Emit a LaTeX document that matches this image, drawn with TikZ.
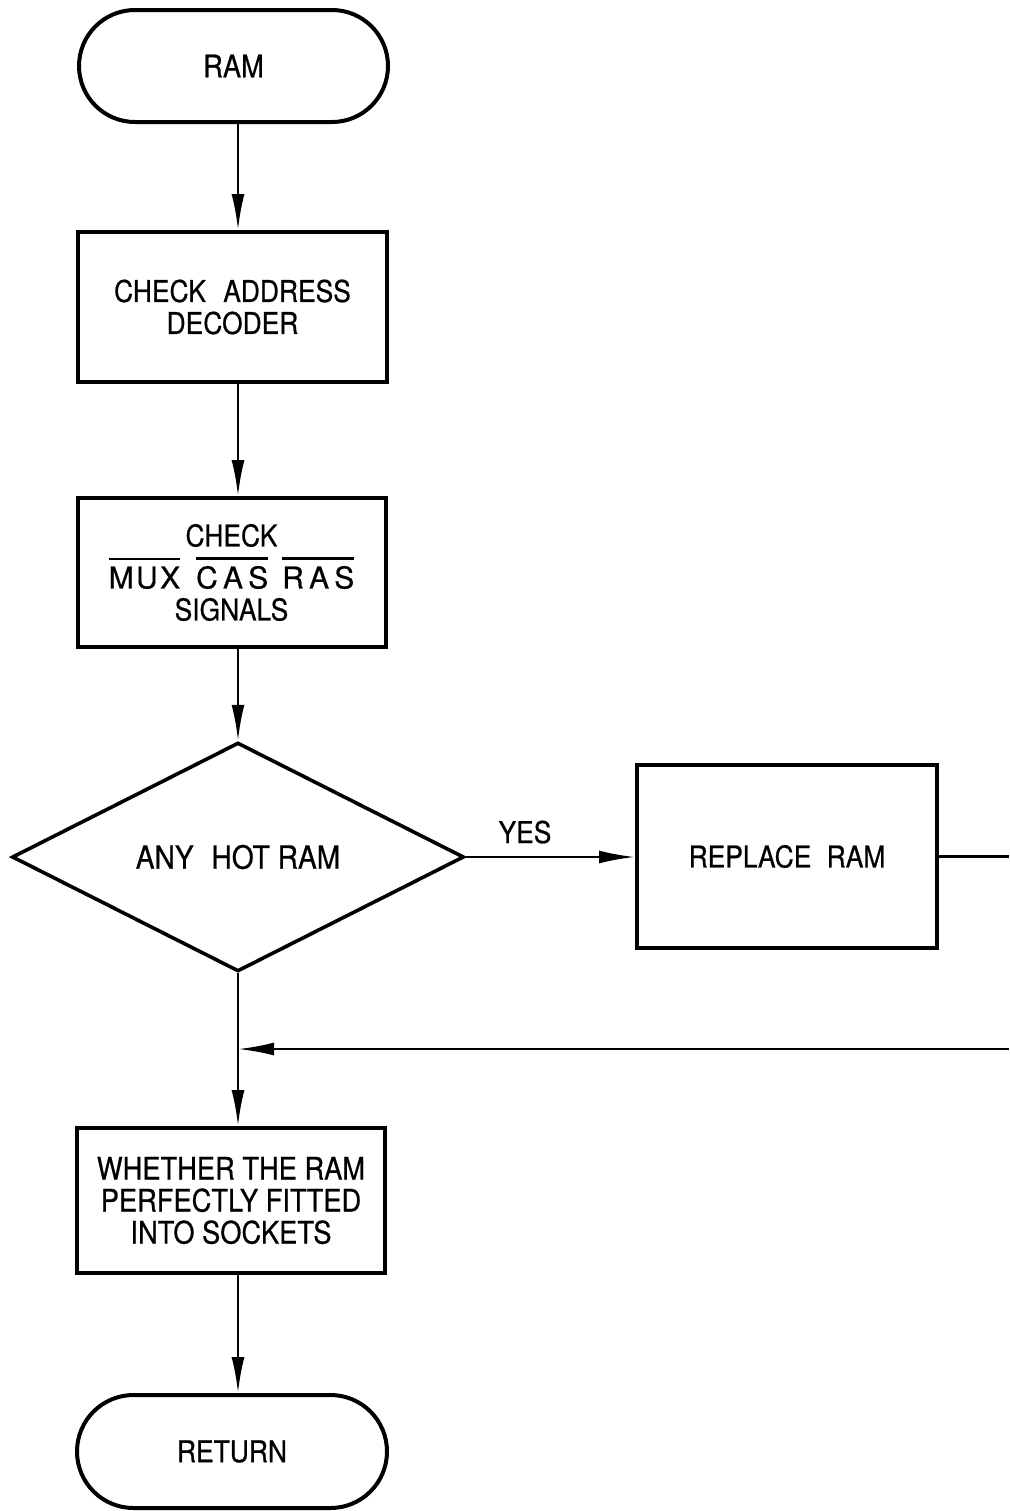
\documentclass[tikz,border=0pt]{standalone}
\usepackage{fontspec}
\setmainfont[FakeStretch=0.88,FakeBold=0.6]{TeX Gyre Heros}
\newfontfamily\widefont[FakeBold=0.6]{TeX Gyre Heros}
\usetikzlibrary{shapes.geometric,shapes.misc,arrows.meta}
\newcommand\ovl[1]{\vbox{\hrule height 1.2pt\kern 3.2pt\hbox{#1}}}
\begin{document}
\begin{tikzpicture}[x=0.5pt,y=-0.5pt,
  txt/.style={font=\fontsize{15}{16}\selectfont},
  box/.style={draw,line width=2pt,inner sep=0pt,align=center,txt},
  term/.style={rounded rectangle,draw,line width=2pt,inner sep=0pt,txt},
  dec/.style={diamond,draw,line width=1.8pt,inner sep=0pt,txt},
  conn/.style={line width=1.3pt},
  arr/.style={conn,-{Latex[length=18pt,width=6.5pt]}}]
\useasboundingbox (0,0) rectangle (1009,1511);
\coordinate (spine) at (238,0);
\node[term,minimum width=154.5pt,minimum height=56pt,font=\fontsize{15.5}{16}\selectfont] (ram) at (233.5,66) {RAM};
\node[box,minimum width=154.5pt,minimum height=75pt] (b1) at (232.5,307) {CHECK\hspace{5pt} ADDRESS\\DECODER};
\node[box,minimum width=154pt,minimum height=74.5pt] (b2) at (231.5,572.5) {CHECK\\[5pt]{\widefont\fontsize{15}{16}\selectfont\ovl{M\kern1.2pt U\kern1.2pt X}\hspace{8pt}\ovl{C\kern2.6pt A\kern2.6pt S}\hspace{7pt}\ovl{R\kern2.6pt A\kern2.6pt S}}\\SIGNALS};
\node[dec,minimum width=226pt,minimum height=114pt,font=\fontsize{16}{16}\selectfont] (d) at (238,857) {ANY\hspace{5pt} HOT RAM};
\node[box,minimum width=150pt,minimum height=91.5pt] (rep) at (787,856.5) {REPLACE\hspace{4pt} RAM};
\node[box,minimum width=154pt,minimum height=72.5pt,font=\fontsize{15.5}{16}\selectfont] (b3) at (231,1200.5) {WHETHER THE RAM\\PERFECTLY FITTED\\INTO SOCKETS};
\node[term,minimum width=155pt,minimum height=56.5pt] (ret) at (232,1451.5) {RETURN};
\node[txt,anchor=base] (yes) at (525,843) {YES};
\coordinate (e1) at (1009,856.5);
\coordinate (e2) at (1009,1049);
\coordinate (j) at (238,1049);
\draw[arr] (ram.south -| spine) -- (b1.north -| spine);
\draw[arr] (b1.south -| spine) -- (b2.north -| spine);
\draw[arr] (b2.south -| spine) -- (d.north);
\draw[arr] (d.east) -- (d.east -| rep.west);
\draw[conn] (rep.east) -- (rep.east -| e1);
\draw[arr] (d.south) -- (b3.north -| d.south);
\draw[arr] (e2) -- (j);
\draw[arr] (b3.south -| spine) -- (ret.north -| spine);
\end{tikzpicture}
\end{document}
